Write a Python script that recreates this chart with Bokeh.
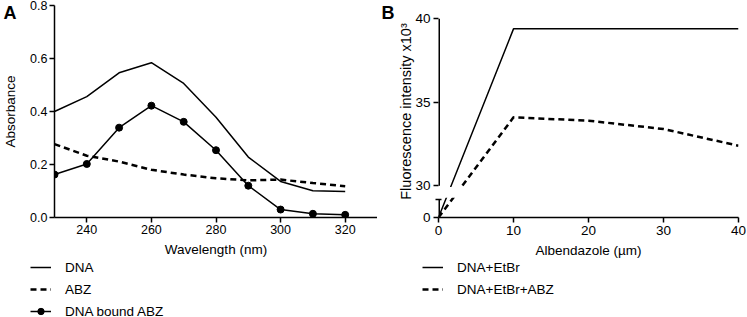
from bokeh.plotting import figure
from bokeh.layouts import row, column
from bokeh.models import (FixedTicker, NumeralTickFormatter, Legend, LegendItem,
                          BoxAnnotation, Range1d, LinearAxis)
from bokeh.embed import file_html
from bokeh.resources import INLINE

# ---------------- Panel A data (absorbance spectra) ----------------
wavelength = [230, 240, 250, 260, 270, 280, 290, 300, 310, 320]
dna_abs = [0.400, 0.456, 0.546, 0.584, 0.506, 0.378, 0.228, 0.136, 0.101, 0.098]
abz_abs = [0.277, 0.233, 0.211, 0.180, 0.162, 0.148, 0.140, 0.143, 0.130, 0.118]
bound_abs = [0.162, 0.202, 0.339, 0.422, 0.361, 0.254, 0.120, 0.030, 0.014, 0.010]
a_xticks = [240, 260, 280, 300, 320]
a_yticks = [0.0, 0.2, 0.4, 0.6, 0.8]
a_labels = ["DNA", "ABZ", "DNA bound ABZ"]

# ---------------- Panel B data (fluorescence, x10^3) ----------------
conc = [0, 10, 20, 30, 40]
etbr = [0, 39.4, 39.4, 39.4, 39.4]
etbr_abz = [0, 34.1, 33.9, 33.4, 32.4]
b_xticks = [0, 10, 20, 30, 40]
b_yticks = [0, 30, 35, 40]
b_labels = ["DNA+EtBr", "DNA+EtBr+ABZ"]

# broken y axis of panel B: lower segment [0, LOW_MAX] squeezed below [30, 40]
LOW_MAX = 5.0
LOW_BASE, LOW_TOP, UP_START, UP_END, RANGE_TOP = 28.1, 29.2, 30.0, 40.0, 40.8


def brk(v):
    if v >= UP_START:
        return v
    return LOW_BASE + (LOW_TOP - LOW_BASE) * v / LOW_MAX


etbr_plot = [brk(v) for v in etbr]
etbr_abz_plot = [brk(v) for v in etbr_abz]

FONT = "Liberation Sans"
SOLID = dict(line_color="black", line_width=1.5)
DASHED = dict(line_color="black", line_width=2.5, line_dash="6 4")
DOT = dict(marker="circle", size=7, fill_color="black", line_color="black")

A_W, B_W = 377, 370
TOP_H, LEG_H = 260, 57
BORDER_TOP, BORDER_BOTTOM = 5, 43
FRAME_H = TOP_H - BORDER_TOP - BORDER_BOTTOM
LETTER_POS = FRAME_H - 7          # panel letters sit ~7px below the frame top


def style(p, tick_size):
    p.outline_line_color = None
    p.xgrid.visible = False
    p.ygrid.visible = False
    for ax in p.axis:
        ax.axis_line_color = "black"
        ax.axis_line_width = 1.5
        ax.major_tick_line_color = "black"
        ax.major_tick_line_width = 1.5
        ax.major_tick_in = 0
        ax.major_tick_out = 5
        ax.minor_tick_line_color = None
        ax.major_label_text_font = FONT
        ax.major_label_text_font_size = tick_size
        ax.major_label_text_color = "black"
        ax.axis_label_text_font = FONT
        ax.axis_label_text_font_style = "normal"
        ax.axis_label_text_font_size = "13.5px"
        ax.axis_label_text_color = "black"


def add_letter(p, text, standoff):
    # panel letter drawn as the single tick label of an outer, line-less axis
    p.extra_y_ranges = {"letter": Range1d(0, FRAME_H)}
    ax = LinearAxis(y_range_name="letter", ticker=FixedTicker(ticks=[LETTER_POS]),
                    major_label_overrides={LETTER_POS: text},
                    axis_line_color=None, major_tick_line_color=None,
                    major_tick_in=0, major_tick_out=0, minor_tick_line_color=None,
                    major_label_standoff=standoff,
                    major_label_text_font=FONT, major_label_text_font_style="bold",
                    major_label_text_font_size="18px", major_label_text_color="black")
    p.add_layout(ax, "left")


def legend_fig(width, height):
    # a strip without axes; its range lies away from the data, so the
    # series drawn here only feed the legend samples
    f = figure(width=width, height=height, x_range=Range1d(-2, -1), y_range=Range1d(-2, -1),
               x_axis_type=None, y_axis_type=None, output_backend="svg",
               toolbar_location=None, min_border=0)
    f.outline_line_color = None
    f.grid.visible = False
    return f


def data_legend(items, loc):
    return Legend(items=items, location=loc, orientation="vertical",
                  glyph_width=21, glyph_height=16, label_height=16,
                  label_standoff=14, spacing=6, padding=0, margin=0,
                  border_line_color=None, background_fill_alpha=0,
                  label_text_font=FONT, label_text_font_size="13.5px",
                  label_text_color="black")


# ---------------- Panel A ----------------
pa = figure(width=A_W, height=TOP_H, x_range=Range1d(230, 330), y_range=Range1d(0, 0.8),
            output_backend="svg", toolbar_location=None,
            min_border_left=52, min_border_right=0,
            min_border_top=BORDER_TOP, min_border_bottom=BORDER_BOTTOM)
style(pa, "12.5px")
pa.xaxis.ticker = FixedTicker(ticks=a_xticks)
pa.yaxis.ticker = FixedTicker(ticks=a_yticks)
pa.yaxis.formatter = NumeralTickFormatter(format="0.0")
pa.xaxis.axis_label = "Wavelength (nm)"
pa.yaxis.axis_label = "Absorbance"
pa.xaxis.major_label_standoff = 2
pa.yaxis.major_label_standoff = 2
pa.xaxis.axis_label_standoff = 5
pa.yaxis.axis_label_standoff = 9
add_letter(pa, "A", -16)

pa.line(wavelength, dna_abs, **SOLID)
pa.line(wavelength, abz_abs, **DASHED)
pa.line(wavelength, bound_abs, **SOLID)
pa.scatter(wavelength, bound_abs, **DOT)

# ---------------- Panel B ----------------
pb = figure(width=B_W, height=TOP_H, x_range=Range1d(0, 40), y_range=Range1d(LOW_BASE, RANGE_TOP),
            output_backend="svg", toolbar_location=None,
            min_border_left=61, min_border_right=9,
            min_border_top=BORDER_TOP, min_border_bottom=BORDER_BOTTOM)
style(pb, "13.5px")
pb.xaxis.ticker = FixedTicker(ticks=b_xticks)
pb.yaxis.ticker = FixedTicker(ticks=[brk(t) for t in b_yticks], minor_ticks=[LOW_TOP])
pb.yaxis.major_label_overrides = {brk(t): str(t) for t in b_yticks}
pb.yaxis.axis_line_color = None
pb.yaxis.minor_tick_line_color = "black"
pb.yaxis.minor_tick_line_width = 1.5
pb.yaxis.minor_tick_in = 3
pb.yaxis.minor_tick_out = 3
pb.xaxis.axis_label = "Albendazole (µm)"
pb.yaxis.axis_label = "Fluorescence intensity x10³"
pb.yaxis.axis_label_text_font_size = "14.5px"
pb.xaxis.major_label_standoff = 3
pb.yaxis.major_label_standoff = 3
pb.xaxis.axis_label_standoff = 5
pb.yaxis.axis_label_standoff = -2
add_letter(pb, "B", 1)

# broken y-axis line: two pieces (lower stub and upper segment)
x_axis_pos = pb.x_range.start
pb.segment(x0=[x_axis_pos, x_axis_pos], y0=[LOW_BASE, UP_START],
           x1=[x_axis_pos, x_axis_pos], y1=[LOW_TOP, UP_END],
           line_color="black", line_width=3)

pb.line(conc, etbr_plot, **SOLID)
pb.line(conc, etbr_abz_plot, **DASHED)

# blank the data lines inside the axis-break band
pb.add_layout(BoxAnnotation(bottom=LOW_TOP + 0.08, top=UP_START - 0.08,
                            fill_color="white", fill_alpha=1.0, line_color=None,
                            level="annotation"))

# ---------------- legends (own strips under each panel) ----------------
la = legend_fig(A_W, LEG_H)
la_r1 = la.line(wavelength, dna_abs, **SOLID)
la_r2 = la.line(wavelength, abz_abs, **DASHED)
la_r3 = la.line(wavelength, bound_abs, **SOLID)
la_r3m = la.scatter(wavelength, bound_abs, **DOT)
la.add_layout(data_legend([
    LegendItem(label=a_labels[0], renderers=[la_r1]),
    LegendItem(label=a_labels[1], renderers=[la_r2]),
    LegendItem(label=a_labels[2], renderers=[la_r3, la_r3m]),
], (30, -2)), "center")

lb = legend_fig(B_W, LEG_H)
lb_r1 = lb.line(conc, etbr_plot, **SOLID)
lb_r2 = lb.line(conc, etbr_abz_plot, **DASHED)
lb.add_layout(data_legend([
    LegendItem(label=b_labels[0], renderers=[lb_r1]),
    LegendItem(label=b_labels[1], renderers=[lb_r2]),
], (45, 20)), "center")

layout = column(row(pa, pb, spacing=0), row(la, lb, spacing=0), spacing=0)
open("out.html", "w").write(file_html(layout, INLINE))
